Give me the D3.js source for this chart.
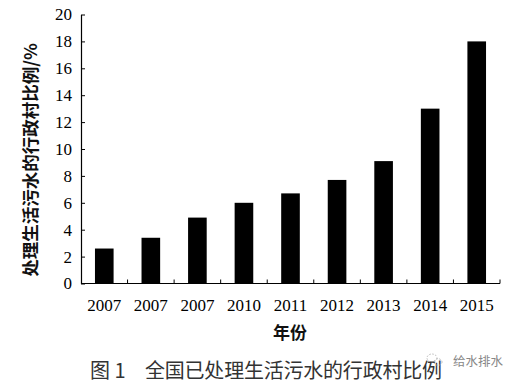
<!DOCTYPE html>
<html><head><meta charset="utf-8">
<script src="https://cdn.jsdelivr.net/npm/d3@7/dist/d3.min.js"></script>
<style>body{margin:0;background:#fff}svg{display:block}</style>
</head><body>
<script>
const categories = ["2007","2007","2007","2010","2011","2012","2013","2014","2015"];
const values = [2.6, 3.4, 4.9, 6.0, 6.7, 7.7, 9.1, 13.0, 18.0];
const yTicks = [0,2,4,6,8,10,12,14,16,18,20];
const yTitle = "处理生活污水的行政村比例/%";
const xTitle = "年份";
const caption1 = "图 1";
const caption2 = "全国已处理生活污水的行政村比例";
const watermark = "给水排水";

const W = 528, H = 392;
const svg = d3.select("body").append("svg").attr("width", W).attr("height", H);
const x0 = 81, x1 = 500, yTop = 14.5, yBot = 283.5;
const x = d3.scaleBand().domain(d3.range(categories.length)).range([x0, x1]).paddingInner(0.6).paddingOuter(0.3);
const y = d3.scaleLinear().domain([0, 20]).range([yBot, yTop]);
const serif = "'Liberation Serif','Times New Roman',serif";

// bars
svg.append("g").selectAll("rect").data(values).join("rect")
  .attr("x", (d,i) => x(i)).attr("width", x.bandwidth())
  .attr("y", d => y(d)).attr("height", d => y(0) - y(d)).attr("fill", "#000");

// y axis
const ya = svg.append("g").attr("transform", `translate(${x0},0)`)
  .call(d3.axisLeft(y).tickValues(yTicks).tickSize(-4).tickPadding(9).tickSizeOuter(0));
ya.select(".domain").attr("stroke", "#000").attr("stroke-width", 1.2);
ya.selectAll(".tick line").attr("stroke", "#000");
ya.selectAll("text").attr("font-family", serif).attr("font-size", 17).attr("fill", "#000");

// x axis (ticks between bands)
const step = (x1 - x0) / categories.length;
const xa = svg.append("g").attr("transform", `translate(0,${yBot})`);
xa.append("line").attr("x1", x0).attr("x2", x1).attr("stroke", "#000").attr("stroke-width", 1.2);
xa.selectAll("line.t").data(d3.range(1, categories.length + 1)).join("line").attr("class","t")
  .attr("x1", i => x0 + i*step).attr("x2", i => x0 + i*step).attr("y1", 0).attr("y2", -4).attr("stroke", "#000");
xa.selectAll("text").data(categories).join("text")
  .attr("x", (d,i) => x(i) + x.bandwidth()/2).attr("y", 27)
  .attr("text-anchor", "middle").attr("font-family", serif).attr("font-size", 17).attr("fill", "#000")
  .text(d => d);

// axis titles
svg.append("text").attr("transform", `translate(37,160) rotate(-90)`)
  .attr("text-anchor", "middle").attr("font-family", "'Noto Sans CJK SC',sans-serif")
  .attr("font-size", 17.5).attr("font-weight", "bold").attr("fill", "#111").text(yTitle);
svg.append("text").attr("x", 290).attr("y", 339).attr("text-anchor", "middle")
  .attr("font-family", "'Noto Sans CJK SC',sans-serif").attr("font-size", 17)
  .attr("font-weight", "bold").attr("fill", "#111").text(xTitle);

// caption
svg.append("text").attr("x", 90).attr("y", 378).attr("font-family", "'Noto Sans CJK SC',sans-serif")
  .attr("font-size", 20).attr("fill", "#333").text(caption1);
svg.append("text").attr("x", 145).attr("y", 378).attr("font-family", "'Noto Sans CJK SC',sans-serif")
  .attr("font-size", 20).attr("fill", "#333").attr("textLength", 297).text(caption2);

// watermark
const wm = svg.append("g").attr("transform", "translate(434,360)").attr("fill", "none").attr("stroke", "#aaa").attr("stroke-width", 0.8);
wm.append("ellipse").attr("cx", -2).attr("cy", -2).attr("rx", 5).attr("ry", 4).attr("stroke-dasharray", "1.5 1.5");
wm.append("ellipse").attr("cx", 4).attr("cy", 2).attr("rx", 4).attr("ry", 3.3).attr("stroke-dasharray", "1.5 1.5");
svg.append("text").attr("x", 453).attr("y", 366).attr("font-family", "'Noto Sans CJK SC',sans-serif")
  .attr("font-size", 12.5).attr("fill", "#888").text(watermark);
</script>
</body></html>
